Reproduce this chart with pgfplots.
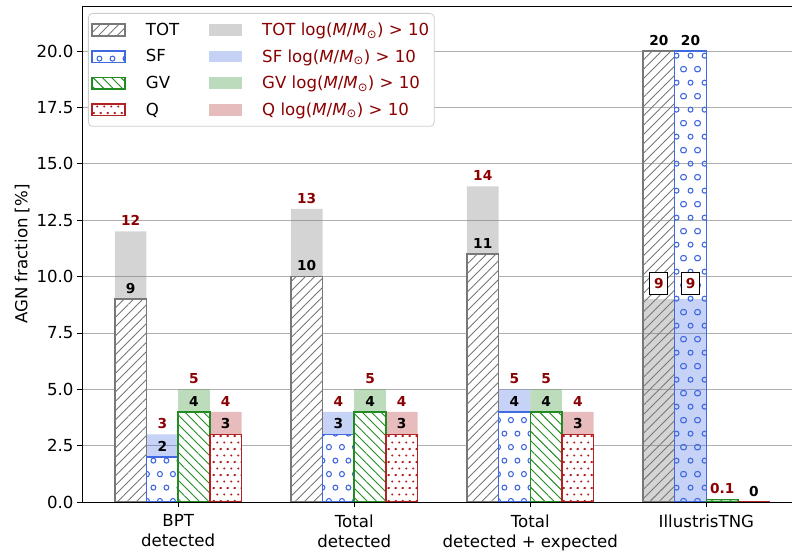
\documentclass[border=0pt]{standalone}
\usepackage{fontspec}
\setmainfont{DejaVu Sans}
\usepackage{pgfplots}
\pgfplotsset{compat=1.18}
\usetikzlibrary{patterns, patterns.meta, calc}

\definecolor{totc}{HTML}{787878}
\definecolor{sfc}{HTML}{4169E1}
\definecolor{gvc}{HTML}{228B22}
\definecolor{qc}{HTML}{B22222}
\definecolor{dred}{HTML}{8B0000}

\tikzdeclarepattern{
  name=hcircles, type=uncolored,
  bounding box={(0pt,0pt) and (13.4pt,26.8pt)},
  tile size={(13.4pt,26.8pt)},
  code={
    \draw[line width=1.1pt] (0pt,0pt) circle (2.5pt) (13.4pt,0pt) circle (2.5pt)
      (0pt,26.8pt) circle (2.5pt) (13.4pt,26.8pt) circle (2.5pt) (6.7pt,13.4pt) circle (2.5pt);
  }
}
\tikzdeclarepattern{
  name=hdots, type=uncolored,
  bounding box={(0pt,0pt) and (6.7pt,13.4pt)},
  tile size={(6.7pt,13.4pt)},
  code={
    \fill (0pt,0pt) circle (1.2pt) (6.7pt,0pt) circle (1.2pt)
      (0pt,13.4pt) circle (1.2pt) (6.7pt,13.4pt) circle (1.2pt) (3.35pt,6.7pt) circle (1.2pt);
  }
}

\tikzset{
  hatchTOT/.style={pattern={Lines[angle=45,distance=6.6pt,line width=0.9pt]}, pattern color=totc},
  hatchGV/.style={pattern={Lines[angle=-45,distance=6.6pt,line width=0.9pt]}, pattern color=gvc},
  hatchSF/.style={pattern=hcircles, pattern color=sfc},
  hatchQ/.style={pattern=hdots, pattern color=qc},
}
\pgfplotsset{
  /pgfplots/area legend/.style={legend image code/.code={\draw[sharp corners, ##1] (0pt,-5.8pt) rectangle (33pt,5.8pt);}},
  shade legend/.style={legend image code/.code={\fill[sharp corners, ##1, draw=none] (0pt,-5.8pt) rectangle (33pt,5.8pt);}},
  mybar/.style={ybar, bar width=0.18, bar shift=0pt, forget plot},
}

\newcommand{\mass}{log(\textit{M}/\textit{M}\textsubscript{⊙}) > 10}

\begin{document}
\begin{tikzpicture}[font=\fontsize{16.6}{20}\selectfont]
\begin{axis}[
  name=ax,
  scale only axis,
  width=720.5pt, height=496pt,
  xmin=-0.546, xmax=3.546, ymin=0, ymax=22,
  clip=false,
  xtick={0,1,2,3},
  xticklabels={{BPT\\detected},{Total\\detected},{Total\\detected + expected},{IllustrisTNG}},
  xticklabel style={align=center, yshift=-4pt, font=\fontsize{16.6}{20}\selectfont},
  ytick={0,2.5,5,7.5,10,12.5,15,17.5,20},
  yticklabel style={font=\fontsize{16.6}{20}\selectfont, /pgf/number format/.cd, fixed, fixed zerofill, precision=1, assume math mode=true},
  tick align=outside, tick pos=left, major tick length=5pt,
  tick style={black, line width=0.8pt},
  ymajorgrids, grid style={line width=0.8pt, color=black!31},
  axis line style={line width=0.8pt},
  ylabel={AGN fraction [\%]},
  ylabel style={font=\fontsize{16.6}{20}\selectfont},
  legend columns=2, legend cell align=left,
  legend style={
    at={(rel axis cs:0,1)}, anchor=north west, xshift=6pt, yshift=-7pt,
    draw=black!20, rounded corners=4pt, line width=0.8pt, fill=white,
    font=\fontsize{16.6}{20}\selectfont,
    inner xsep=3pt, inner ysep=7.5pt, row sep=8.5pt,
    /tikz/every odd column/.append style={column sep=18pt},
    /tikz/every even column/.append style={column sep=28pt},
  },
]
% shaded bars log(M/Msun) > 10
\addplot[mybar, fill=totc, fill opacity=0.32, draw=none] coordinates {(-0.27,12) (0.73,13) (1.73,14) (2.73,9)};
\addplot[mybar, fill=sfc, fill opacity=0.3, draw=none] coordinates {(-0.09,3) (0.91,4) (1.91,5) (2.91,9)};
\addplot[mybar, fill=gvc, fill opacity=0.3, draw=none] coordinates {(0.09,5) (1.09,5) (2.09,5) (3.09,0.1)};
\addplot[mybar, fill=qc, fill opacity=0.3, draw=none] coordinates {(0.27,4) (1.27,4) (2.27,4) (3.27,0)};
% hatched bars, observations
\addplot[mybar, draw=totc, line width=1.5pt, fill=white, postaction={hatchTOT}] coordinates {(-0.27,9) (0.73,10) (1.73,11)};
\addplot[mybar, draw=sfc, line width=1.5pt, fill=white, postaction={hatchSF}] coordinates {(-0.09,2) (0.91,3) (1.91,4)};
\addplot[mybar, draw=gvc, line width=1.5pt, fill=white, postaction={hatchGV}] coordinates {(0.09,4) (1.09,4) (2.09,4)};
\addplot[mybar, draw=qc, line width=1.5pt, fill=white, postaction={hatchQ}] coordinates {(0.27,3) (1.27,3) (2.27,3)};
% hatched bars, IllustrisTNG (transparent)
\addplot[mybar, draw=totc, line width=1.5pt, hatchTOT] coordinates {(2.73,20)};
\addplot[mybar, draw=sfc, line width=1.5pt, hatchSF] coordinates {(2.91,20)};
\addplot[mybar, draw=gvc, line width=1.5pt, hatchGV] coordinates {(3.09,0.1)};
\addplot[mybar, draw=qc, line width=1.5pt, hatchQ] coordinates {(3.27,0)};
% labels
\addplot[draw=none, forget plot, nodes near coords, point meta=explicit symbolic,
  every node near coord/.append style={anchor=south, inner sep=0pt, yshift=5.5pt, text=black, font=\bfseries\fontsize{13.7}{16}\selectfont}]
  coordinates {(-0.27,9) [9] (-0.09,2) [2] (0.09,4) [4] (0.27,3) [3]
               (0.73,10) [10] (0.91,3) [3] (1.09,4) [4] (1.27,3) [3]
               (1.73,11) [11] (1.91,4) [4] (2.09,4) [4] (2.27,3) [3]
               (2.73,20) [20] (2.91,20) [20] (3.27,0) [0]};
\addplot[draw=none, forget plot, nodes near coords, point meta=explicit symbolic,
  every node near coord/.append style={anchor=south, inner sep=0pt, yshift=5.5pt, text=dred, font=\bfseries\fontsize{13.7}{16}\selectfont}]
  coordinates {(-0.27,12) [12] (-0.09,3) [3] (0.09,5) [5] (0.27,4) [4]
               (0.73,13) [13] (0.91,4) [4] (1.09,5) [5] (1.27,4) [4]
               (1.73,14) [14] (1.91,5) [5] (2.09,5) [5] (2.27,4) [4]
               (3.09,0.1) [0.1]};
\addplot[draw=none, forget plot, nodes near coords, point meta=explicit symbolic,
  every node near coord/.append style={anchor=south, inner sep=0pt, yshift=4pt, text=dred, draw=black, fill=white, line width=0.8pt, minimum width=18pt, minimum height=22pt, font=\bfseries\fontsize{13.7}{16}\selectfont}]
  coordinates {(2.73,9) [9] (2.91,9) [9]};
% bottom spine above bars
\draw[line width=0.8pt] (rel axis cs:0,0) -- (rel axis cs:1,0);
% legend
\addlegendimage{area legend, draw=totc, line width=1.5pt, fill=white, postaction={hatchTOT}}
\addlegendentry{TOT}
\addlegendimage{shade legend, fill=totc, fill opacity=0.32}
\addlegendentry{\textcolor{dred}{TOT \mass}}
\addlegendimage{area legend, draw=sfc, line width=1.5pt, fill=white, postaction={hatchSF}}
\addlegendentry{SF}
\addlegendimage{shade legend, fill=sfc, fill opacity=0.3}
\addlegendentry{\textcolor{dred}{SF \mass}}
\addlegendimage{area legend, draw=gvc, line width=1.5pt, fill=white, postaction={hatchGV}}
\addlegendentry{GV}
\addlegendimage{shade legend, fill=gvc, fill opacity=0.3}
\addlegendentry{\textcolor{dred}{GV \mass}}
\addlegendimage{area legend, draw=qc, line width=1.5pt, fill=white, postaction={hatchQ}}
\addlegendentry{Q}
\addlegendimage{shade legend, fill=qc, fill opacity=0.3}
\addlegendentry{\textcolor{dred}{Q \mass}}
\end{axis}
\pgfresetboundingbox
\path[use as bounding box] ($(ax.south west)+(-82pt,-52pt)$) rectangle ($(ax.south west)+(710pt,502pt)$);
\end{tikzpicture}
\end{document}
